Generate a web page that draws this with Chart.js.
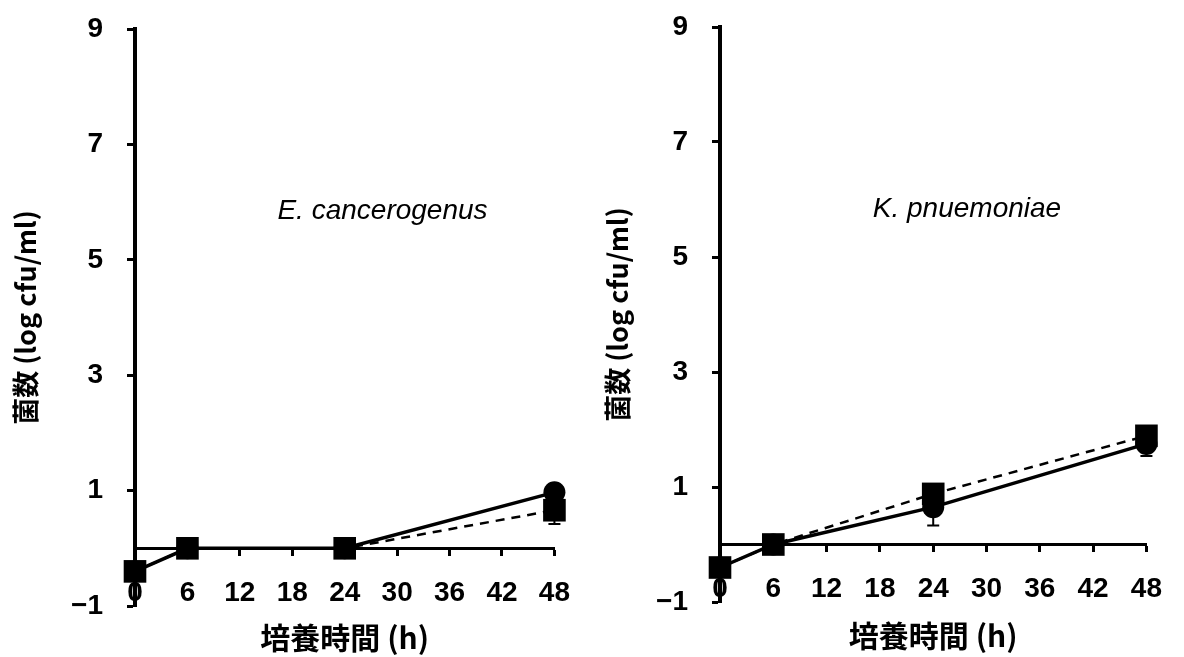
<!DOCTYPE html>
<html>
<head>
<meta charset="utf-8">
<script src="https://cdn.jsdelivr.net/npm/chart.js@4.4.0/dist/chart.umd.min.js"></script>
<style>
  body { margin: 0; background: #fff; width: 1184px; height: 657px; overflow: hidden; position: relative; }
  canvas { position: absolute; top: 0; }
</style>
</head>
<body>
<canvas id="left" width="592" height="657" style="left:0"></canvas>
<canvas id="right" width="592" height="657" style="left:592px"></canvas>
<script>
// sampling times (h) and axis ticks
const hours = [0, 6, 24, 48];
const yTicks = [-1, 1, 3, 5, 7, 9];

// E. cancerogenus
const ecCircle = [-0.4, 0, 0, 0.97];
const ecCircleErr = [0, 0, 0, 0];
const ecSquare = [-0.4, 0, 0, 0.66];
const ecSquareErr = [0, 0, 0, 0.24];

// K. pnuemoniae
const kpCircle = [-0.4, 0, 0.65, 1.75];
const kpCircleErr = [0, 0, 0.32, 0.21];
const kpSquare = [-0.4, 0, 0.88, 1.89];
const kpSquareErr = [0, 0, 0, 0];

const tickFont = { family: '"Liberation Sans", Arial, sans-serif', size: 28, weight: 'bold' };
const cjkFont = { family: '"Noto Sans CJK JP", sans-serif', size: 27, weight: 'bold' };

const toPoints = vals => hours.map((h, i) => ({ x: h, y: vals[i] }));

// whiskers drawn under the markers
const errorBars = {
  id: 'errorBars',
  beforeDatasetsDraw(chart) {
    const { ctx, scales: { x, y } } = chart;
    ctx.save();
    ctx.strokeStyle = '#000';
    ctx.lineWidth = 2;
    chart.data.datasets.forEach(ds => {
      (ds.errors || []).forEach((e, i) => {
        if (!e) return;
        const px = x.getPixelForValue(ds.data[i].x);
        const lo = y.getPixelForValue(ds.data[i].y - e);
        const hi = y.getPixelForValue(ds.data[i].y + e);
        ctx.beginPath();
        ctx.moveTo(px, hi); ctx.lineTo(px, lo);
        ctx.moveTo(px - 6, lo); ctx.lineTo(px + 6, lo);
        ctx.moveTo(px - 6, hi); ctx.lineTo(px + 6, hi);
        ctx.stroke();
      });
    });
    ctx.restore();
  }
};

// species name inside the plot
const species = {
  id: 'species',
  afterDraw(chart, args, opts) {
    const { ctx, scales: { x, y } } = chart;
    ctx.save();
    ctx.fillStyle = '#000';
    ctx.font = 'italic 28px "Liberation Sans", Arial, sans-serif';
    ctx.textBaseline = 'alphabetic';
    ctx.fillText(opts.text, x.getPixelForValue(opts.x), y.getPixelForValue(opts.y));
    ctx.restore();
  }
};

const makeChart = (id, circle, circleErr, square, squareErr, name, o) => {
  const ctx = document.getElementById(id).getContext('2d');
  return new Chart(ctx, {
    type: 'line',
    data: {
      datasets: [
        {
          data: toPoints(square),
          errors: squareErr,
          order: 0,
          clip: false,
          borderColor: '#000',
          backgroundColor: '#000',
          borderWidth: 2.5,
          borderDash: [9, 7],
          pointStyle: 'rect',
          pointRadius: 16,
          pointBorderWidth: 0,
          tension: 0
        },
        {
          data: toPoints(circle),
          errors: circleErr,
          order: 1,
          clip: false,
          borderColor: '#000',
          backgroundColor: '#000',
          borderWidth: 3.5,
          pointStyle: 'circle',
          pointRadius: 11,
          pointBorderWidth: 0,
          tension: 0
        }
      ]
    },
    options: {
      responsive: false,
      animation: false,
      layout: { padding: { left: 0, right: o.right, top: o.top, bottom: o.bottom } },
      plugins: {
        legend: { display: false },
        tooltip: { enabled: false },
        title: {
          display: true,
          position: 'bottom',
          fullSize: false,
          text: '培養時間 (h)',
          color: '#000',
          font: { family: cjkFont.family, size: 30, weight: 'bold' },
          padding: { top: o.titlePad, bottom: 0 }
        },
        species: name
      },
      scales: {
        x: {
          type: 'linear',
          min: 0,
          max: 48,
          position: { y: 0 },
          border: { display: true, color: '#000', width: 3 },
          grid: { drawOnChartArea: false, tickLength: 6, tickWidth: 3, tickColor: '#000' },
          ticks: { stepSize: 6, padding: 22, color: '#000', font: tickFont, maxRotation: 0, autoSkip: false }
        },
        y: {
          type: 'linear',
          min: -1,
          max: 9,
          afterBuildTicks: s => { s.ticks = yTicks.map(v => ({ value: v })); },
          afterFit: s => { s.width = o.yWidth; s.paddingTop = 0; s.paddingBottom = 0; },
          border: { display: true, color: '#000', width: 4 },
          grid: { drawOnChartArea: false, tickLength: 8, tickWidth: 3, tickColor: '#000' },
          ticks: {
            padding: 24,
            color: '#000',
            font: tickFont,
            callback: v => String(v).replace('-', '\u2212')
          },
          title: {
            display: true,
            text: '菌数 (log cfu/ml)',
            color: '#000',
            font: cjkFont,
            padding: { top: 10, bottom: 0 }
          }
        }
      }
    },
    plugins: [errorBars, species]
  });
};

makeChart('left', ecCircle, ecCircleErr, ecSquare, ecSquareErr,
  { text: 'E. cancerogenus', x: 16.3, y: 5.7 },
  { yWidth: 135, right: 18, top: 29, bottom: 1, titlePad: 14 });
makeChart('right', kpCircle, kpCircleErr, kpSquare, kpSquareErr,
  { text: 'K. pnuemoniae', x: 17.2, y: 5.7 },
  { yWidth: 128, right: 24, top: 27, bottom: 3, titlePad: 16 });
</script>
</body>
</html>
